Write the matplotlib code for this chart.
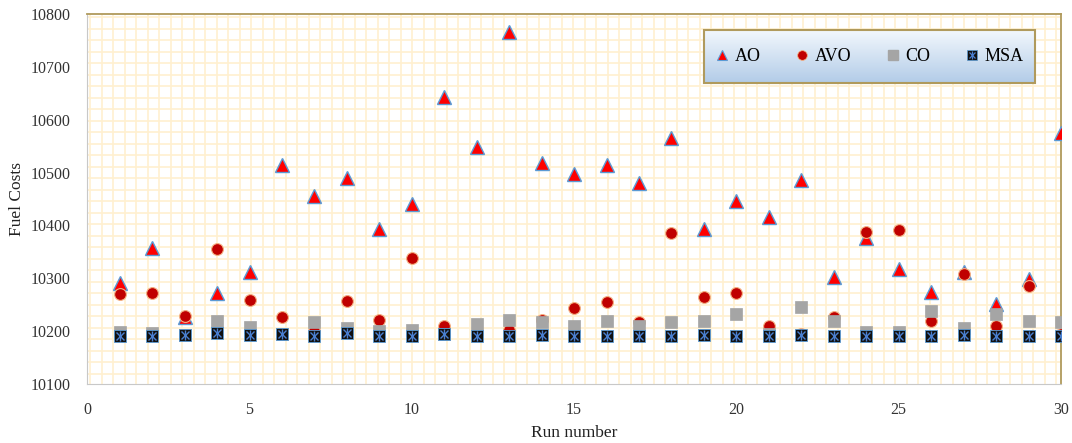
import numpy as np
import matplotlib.pyplot as plt
from matplotlib.lines import Line2D

# Data
runs = np.arange(1, 31)
ao = [10291, 10358, 10226, 10272, 10312, 10514, 10455, 10490, 10394, 10441,
      10644, 10548, 10767, 10518, 10498, 10515, 10480, 10565, 10394, 10447,
      10417, 10487, 10303, 10377, 10317, 10274, 10312, 10251, 10298, 10575]
avo = [10270, 10272, 10229, 10355, 10259, 10227, 10200, 10257, 10221, 10339,
       10209, 10195, 10202, 10221, 10243, 10255, 10217, 10386, 10265, 10273,
       10209, 10195, 10226, 10387, 10392, 10219, 10308, 10210, 10286, 10195]
co = [10199, 10197, 10193, 10219, 10208, 10195, 10217, 10206, 10201, 10202,
      10195, 10213, 10222, 10217, 10210, 10219, 10210, 10217, 10219, 10232,
      10195, 10245, 10220, 10198, 10199, 10238, 10206, 10233, 10219, 10217]
msa = [10191, 10191, 10192, 10197, 10192, 10194, 10191, 10196, 10191, 10191,
       10195, 10191, 10191, 10193, 10191, 10191, 10191, 10191, 10193, 10191,
       10191, 10192, 10191, 10191, 10191, 10191, 10193, 10191, 10191, 10191]
xticks = [0, 5, 10, 15, 20, 25, 30]
yticks = list(range(10100, 10801, 100))

plt.rcParams['font.family'] = ['Liberation Serif', 'DejaVu Serif']

fig = plt.figure(figsize=(10.72, 4.43), dpi=100)
ax = fig.add_axes([0.0814, 0.1332, 0.9083, 0.8348])
ax.set_xlim(0, 30)
ax.set_ylim(10100, 10800)

# background pattern of the plot area (pixel spaced, not tied to data)
ax_w_px = 0.9083 * 1072
ax_h_px = 0.8348 * 443
step = 11.5
for px in np.arange(3, ax_w_px, step):
    ax.axvline(30 * px / ax_w_px, color='#FFF0D0', lw=1.2, zorder=0)
for py in np.arange(3, ax_h_px, step):
    ax.axhline(10800 - 700 * py / ax_h_px, color='#FFF0D0', lw=1.2, zorder=0)

ms = 8.5
ax.plot(runs, ao, linestyle='none', marker='^', ms=ms + 1, mfc='#FF0000',
        mec='#5B9BD5', mew=1.0, zorder=3)
ax.plot(runs, avo, linestyle='none', marker='o', ms=ms, mfc='#C00000',
        mec='#F4B183', mew=0.8, zorder=4)
ax.plot(runs, co, linestyle='none', marker='s', ms=ms, mfc='#A5A5A5',
        mec='#A5A5A5', mew=0.5, zorder=5)
ax.plot(runs, msa, linestyle='none', marker='s', ms=ms + 0.5, mfc='#111111',
        mec='#5B9BD5', mew=0.6, zorder=6)
ax.plot(runs, msa, linestyle='none', marker='x', ms=ms - 2.5, mec='#4A7FD0',
        mew=1.0, zorder=7)
ax.plot(runs, msa, linestyle='none', marker='|', ms=ms - 1.5, mec='#4A7FD0',
        mew=1.0, zorder=7)

ax.set_xticks(xticks)
ax.set_yticks(yticks)
ax.tick_params(length=0, labelsize=11.5, colors='#333333')
ax.tick_params(axis='x', pad=13)
ax.tick_params(axis='y', pad=12)
for side in ['left', 'bottom']:
    ax.spines[side].set_color('#C8C8C8')
for side in ['top', 'right']:
    ax.spines[side].set_color('#B09A5C')
    ax.spines[side].set_linewidth(1.3)

ax.set_xlabel('Run number', fontsize=12.5, color='#222222')
ax.set_ylabel('Fuel Costs', fontsize=12.5, color='#222222')
ax.xaxis.set_label_coords(0.5, -0.112)
ax.yaxis.set_label_coords(-0.064, 0.5)

# legend box with gradient fill
lx0, lx1, ly0, ly1 = 0.633, 0.973, 0.814, 0.957
grad = np.linspace(0, 1, 100)
top_c = np.array([0.95, 0.97, 0.99])
bot_c = np.array([0.70, 0.80, 0.91])
img = (top_c * (1 - grad[:, None]) + bot_c * grad[:, None]).reshape(100, 1, 3)
ax.imshow(img, extent=(lx0, lx1, ly0, ly1), transform=ax.transAxes,
          aspect='auto', zorder=8, interpolation='bilinear')
ax.add_patch(plt.Rectangle((lx0, ly0), lx1 - lx0, ly1 - ly0,
                           transform=ax.transAxes, fill=False,
                           ec='#B09A5C', lw=1.5, zorder=9))
ax.set_xlim(0, 30)
ax.set_ylim(10100, 10800)

h_ao = Line2D([], [], ls='none', marker='^', ms=7, mfc='#FF0000', mec='#5B9BD5', mew=0.8)
h_avo = Line2D([], [], ls='none', marker='o', ms=7, mfc='#C00000', mec='#F4B183', mew=0.6)
h_co = Line2D([], [], ls='none', marker='s', ms=7, mfc='#A5A5A5', mec='#A5A5A5')
h_msa = (Line2D([], [], ls='none', marker='s', ms=7, mfc='#111111', mec='#5B9BD5', mew=0.5),
         Line2D([], [], ls='none', marker='x', ms=4.5, mec='#4A7FD0', mew=0.9),
         Line2D([], [], ls='none', marker='|', ms=5.5, mec='#4A7FD0', mew=0.9))
leg = ax.legend([h_ao, h_avo, h_co, h_msa], ['AO', 'AVO', 'CO', 'MSA'], ncol=4,
                frameon=False, loc='center',
                bbox_to_anchor=((lx0 + lx1) / 2, (ly0 + ly1) / 2),
                fontsize=13, handlelength=0.8, handletextpad=0.3,
                columnspacing=1.9)
leg.set_zorder(10)

fig.savefig('out.png', dpi=100)
